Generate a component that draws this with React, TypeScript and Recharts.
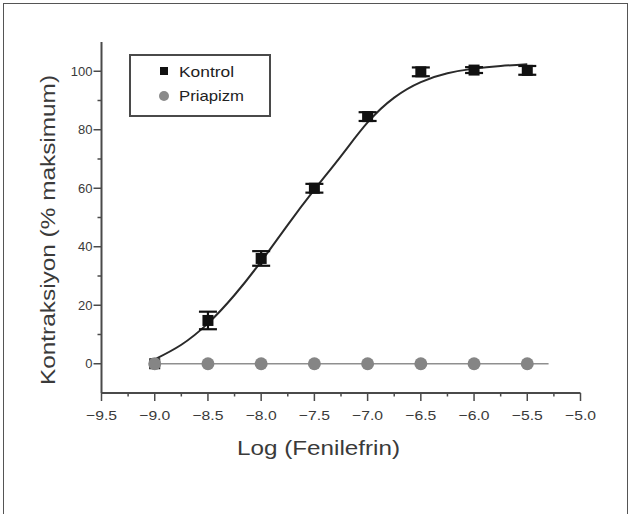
import React from 'react';
import {
  ComposedChart,
  Line,
  Scatter,
  XAxis,
  YAxis,
  ErrorBar,
  Legend,
  Label,
} from 'recharts';

// measured points (log molar phenylephrine)
const doseLog = [-9.0, -8.5, -8.0, -7.5, -7.0, -6.5, -6.0, -5.5];
const kontrolMean = [0, 14.8, 36, 60, 84.5, 99.8, 100.4, 100.3];
const kontrolErr = [0, 3, 2.5, 1.5, 1.5, 1.5, 1, 1.5];
const priapizmMean = [0, 0, 0, 0, 0, 0, 0, 0];

// fitted curves
const kontrolFitLog = [-9.0, -8.75, -8.5, -8.25, -8.0, -7.75, -7.5, -7.25, -7.0, -6.75, -6.5, -6.25, -6.0, -5.75, -5.5];
const kontrolFit = [1.5, 6.5, 13.8, 23.5, 35, 47.5, 59.5, 71, 82.5, 91, 96.3, 99.3, 100.9, 101.8, 102.4];
const priapizmFitLog = [-9.0, -5.3];
const priapizmFit = [0, 0];

const xMajorTicks = [-9.5, -9.0, -8.5, -8.0, -7.5, -7.0, -6.5, -6.0, -5.5, -5.0];
const xMinorTicks = [-9.25, -8.75, -8.25, -7.75, -7.25, -6.75, -6.25, -5.75, -5.25];
const yMajorTicks = [0, 20, 40, 60, 80, 100];
const yMinorTicks = [10, 30, 50, 70, 90];

const AXIS = '#4a4a4a';
const TEXT = '#3a3a3a';
const FONT = '"Liberation Sans", Arial, sans-serif';

const kontrolPoints = doseLog.map((x, i) => ({ x, y: kontrolMean[i], err: kontrolErr[i] }));
const priapizmPoints = doseLog.map((x, i) => ({ x, y: priapizmMean[i] }));
const kontrolCurve = kontrolFitLog.map((x, i) => ({ x, y: kontrolFit[i] }));
const priapizmCurve = priapizmFitLog.map((x, i) => ({ x, y: priapizmFit[i] }));

const xTicks = [...xMajorTicks, ...xMinorTicks].sort((a, b) => a - b);
const yTicks = [...yMajorTicks, ...yMinorTicks].sort((a, b) => a - b);

const fmtX = (v: number) => v.toFixed(1).replace('-', '\u2212');

const XTick = (props: any) => {
  const { x, y, payload } = props;
  const major = xMajorTicks.includes(payload.value);
  return (
    <g>
      <line x1={x} y1={y} x2={x} y2={y + (major ? 8 : 3.5)} stroke={AXIS} strokeWidth={1.5} />
      {major && (
        <text
          x={x}
          y={y + 27}
          textAnchor="middle"
          fontSize={13}
          fontFamily={FONT}
          fill={TEXT}
          textLength={31}
          lengthAdjust="spacingAndGlyphs"
        >
          {fmtX(payload.value)}
        </text>
      )}
    </g>
  );
};

const YTick = (props: any) => {
  const { x, y, payload } = props;
  const major = yMajorTicks.includes(payload.value);
  return (
    <g>
      <line x1={x} y1={y} x2={x - (major ? 8 : 4)} y2={y} stroke={AXIS} strokeWidth={1.5} />
      {major && (
        <text x={x - 9} y={y + 4.5} textAnchor="end" fontSize={13} fontFamily={FONT} fill={TEXT}>
          {payload.value}
        </text>
      )}
    </g>
  );
};

const Square = (props: any) => {
  const { cx, cy } = props;
  if (cx == null || cy == null) return null;
  return <rect x={cx - 5.5} y={cy - 5.5} width={11} height={11} fill="#111" />;
};

const Dot = (props: any) => {
  const { cx, cy } = props;
  if (cx == null || cy == null) return null;
  return <circle cx={cx} cy={cy} r={6.5} fill="#858585" />;
};

const LegendBox = () => (
  <svg width={143} height={64} style={{ display: 'block' }}>
    <rect x={1} y={1} width={140} height={61} fill="#fff" stroke={AXIS} strokeWidth={2} />
    <rect x={31} y={13} width={8} height={8} fill="#111" />
    <text x={50} y={23} fontSize={15} fontFamily={FONT} fill="#222" textLength={55} lengthAdjust="spacingAndGlyphs">
      Kontrol
    </text>
    <circle cx={35} cy={42} r={5} fill="#8a8a8a" />
    <text x={50} y={47} fontSize={15} fontFamily={FONT} fill="#222" textLength={65} lengthAdjust="spacingAndGlyphs">
      Priapizm
    </text>
  </svg>
);

export default function App() {
  return (
    <div style={{ position: 'absolute', left: 0, top: 0, width: 631, height: 514, background: '#fff', overflow: 'hidden' }}>
      <div
        style={{
          position: 'absolute',
          left: 3,
          top: 3,
          width: 623,
          height: 530,
          border: '1.5px solid #555',
        }}
      />
      <ComposedChart
        width={631}
        height={514}
        margin={{ top: 42, right: 50.5, left: 0, bottom: 0 }}
        style={{ position: 'absolute', left: 0, top: 0 }}
      >
        <XAxis
          dataKey="x"
          type="number"
          domain={[-9.5, -5]}
          ticks={xTicks}
          interval={0}
          tickSize={0}
          tickMargin={0}
          tickLine={false}
          tick={<XTick />}
          axisLine={{ stroke: AXIS, strokeWidth: 2 }}
          height={121}
          allowDataOverflow
        >
          <Label
            content={() => (
              <text
                x={237}
                y={455}
                fontSize={21}
                fontFamily={FONT}
                fill={TEXT}
                textLength={163}
                lengthAdjust="spacingAndGlyphs"
              >
                Log (Fenilefrin)
              </text>
            )}
          />
        </XAxis>
        <YAxis
          type="number"
          domain={[-10, 110]}
          ticks={yTicks}
          interval={0}
          tickSize={0}
          tickMargin={0}
          tickLine={false}
          tick={<YTick />}
          axisLine={{ stroke: AXIS, strokeWidth: 2 }}
          width={101.5}
          allowDataOverflow
        >
          <Label
            content={() => (
              <text
                transform="translate(55, 230) rotate(-90)"
                x={0}
                y={0}
                textAnchor="middle"
                fontSize={21}
                fontFamily={FONT}
                fill={TEXT}
                textLength={310}
                lengthAdjust="spacingAndGlyphs"
              >
                Kontraksiyon (% maksimum)
              </text>
            )}
          />
        </YAxis>
        <Line
          data={kontrolCurve}
          dataKey="y"
          type="natural"
          stroke="#2a2a2a"
          strokeWidth={2}
          dot={false}
          activeDot={false}
          isAnimationActive={false}
          legendType="none"
        />
        <Line
          data={priapizmCurve}
          dataKey="y"
          type="linear"
          stroke="#8f8f8f"
          strokeWidth={1.5}
          dot={false}
          activeDot={false}
          isAnimationActive={false}
          legendType="none"
        />
        <Scatter
          name="Kontrol"
          data={kontrolPoints}
          dataKey="y"
          shape={<Square />}
          isAnimationActive={false}
        >
          <ErrorBar dataKey="err" direction="y" width={9} stroke="#111" strokeWidth={2.2} />
        </Scatter>
        <Scatter
          name="Priapizm"
          data={priapizmPoints}
          dataKey="y"
          shape={<Dot />}
          isAnimationActive={false}
        />
        <Legend
          layout="horizontal"
          verticalAlign="middle"
          align="center"
          content={() => <LegendBox />}
          wrapperStyle={{ position: 'absolute', left: 129, top: 54, width: 143, height: 64 }}
        />
      </ComposedChart>
    </div>
  );
}
